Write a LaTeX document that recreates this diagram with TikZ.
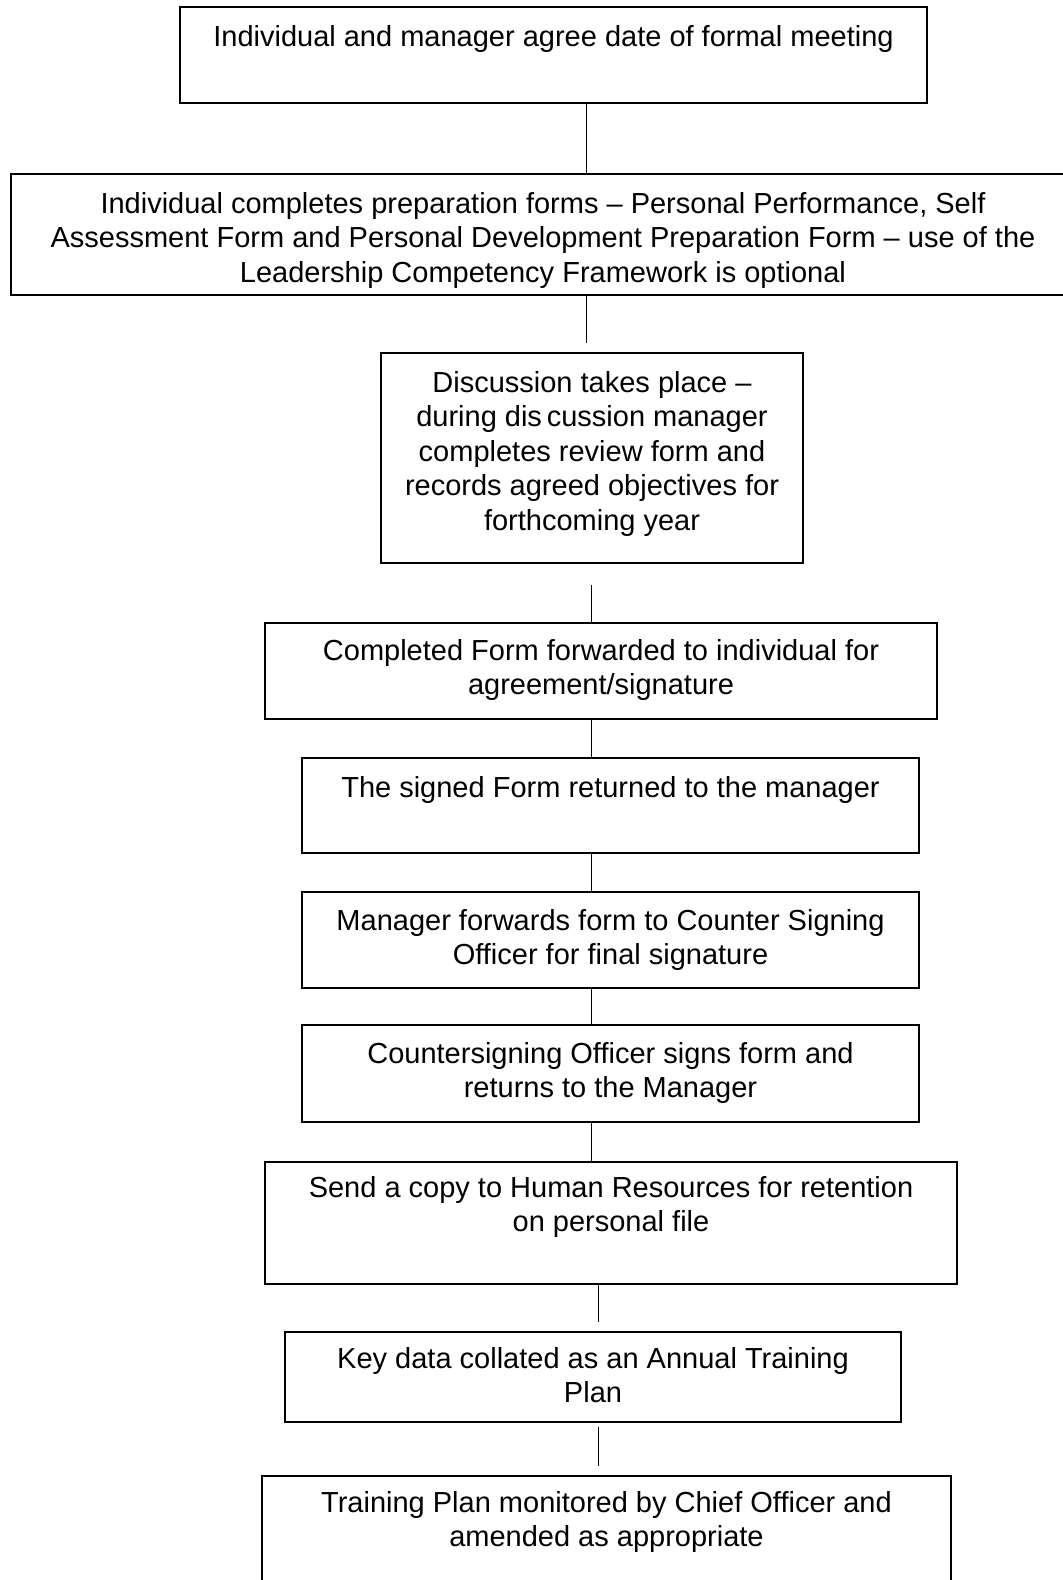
\documentclass[tikz,border=0pt]{standalone}
\usepackage{fontspec}
\setmainfont{Liberation Sans}
\begin{document}
\begin{tikzpicture}[x=1pt,y=-1pt,
  box/.style={draw, line width=1.4pt, inner sep=0pt, rectangle},
  lbl/.style={anchor=north, align=center, inner sep=0pt, font=\fontsize{29}{34.5}\selectfont},
  conn/.style={line width=1.4pt}]
\useasboundingbox (0,0) rectangle (1063,1580);
\clip (0,0) rectangle (1063,1580);
% boxes
\node[box, minimum width=747pt, minimum height=96pt] (b1) at (553.5,55) {};
\node[box, minimum width=1064pt, minimum height=121pt] (b2) at (543,234.5) {};
\node[box, minimum width=422pt, minimum height=210pt] (b3) at (592,458) {};
\node[box, minimum width=672pt, minimum height=96pt] (b4) at (601,671) {};
\node[box, minimum width=617pt, minimum height=95pt] (b5) at (610.5,805.5) {};
\node[box, minimum width=617pt, minimum height=96pt] (b6) at (610.5,940) {};
\node[box, minimum width=617pt, minimum height=97pt] (b7) at (610.5,1073.5) {};
\node[box, minimum width=692pt, minimum height=122pt] (b8) at (611,1223) {};
\node[box, minimum width=616pt, minimum height=90pt] (b9) at (593,1377) {};
\node[box, minimum width=689pt, minimum height=124pt] (b10) at (606.5,1538) {};
% texts
\node[lbl] (t1) at (553.5,25) {Individual and manager agree date of formal meeting};
\node[lbl] (t2) at (543,192) {Individual completes preparation forms -- Personal Performance, Self\\Assessment Form and Personal Development Preparation Form -- use of the\\Leadership Competency Framework is optional};
\node[lbl] (t3) at (592,371) {Discussion takes place --\\during dis\,cussion manager\\completes review form and\\records agreed objectives for\\forthcoming year};
\node[lbl] (t4) at (601,639) {Completed Form forwarded to individual for\\agreement/signature};
\node[lbl] (t5) at (610.5,776) {The signed Form returned to the manager};
\node[lbl] (t6) at (610.5,909) {Manager forwards form to Counter Signing\\Officer for final signature};
\node[lbl] (t7) at (610.5,1042) {Countersigning Officer signs form and\\returns to the Manager};
\node[lbl] (t8) at (611,1176) {Send a copy to Human Resources for retention\\on personal file};
\node[lbl] (t9) at (593,1347) {Key data collated as an Annual Training\\Plan};
\node[lbl] (t10) at (606.5,1491) {Training Plan monitored by Chief Officer and\\amended as appropriate};
% connector x positions and free ends
\coordinate (xa) at (586.5,0);
\coordinate (xb) at (591.5,0);
\coordinate (xc) at (598.5,0);
\coordinate (e2) at (586.5,343);
\coordinate (s3) at (591.5,585);
\coordinate (e8) at (598.5,1322);
\coordinate (s9) at (598.5,1427);
\coordinate (e9) at (598.5,1466);
% connectors
\draw[conn] (b1.south -| xa) -- (b2.north -| xa);
\draw[conn] (b2.south -| xa) -- (e2);
\draw[conn] (s3) -- (b4.north -| xb);
\draw[conn] (b4.south -| xb) -- (b5.north -| xb);
\draw[conn] (b5.south -| xb) -- (b6.north -| xb);
\draw[conn] (b6.south -| xb) -- (b7.north -| xb);
\draw[conn] (b7.south -| xb) -- (b8.north -| xb);
\draw[conn] (b8.south -| xc) -- (e8);
\draw[conn] (s9) -- (e9);
\end{tikzpicture}
\end{document}
